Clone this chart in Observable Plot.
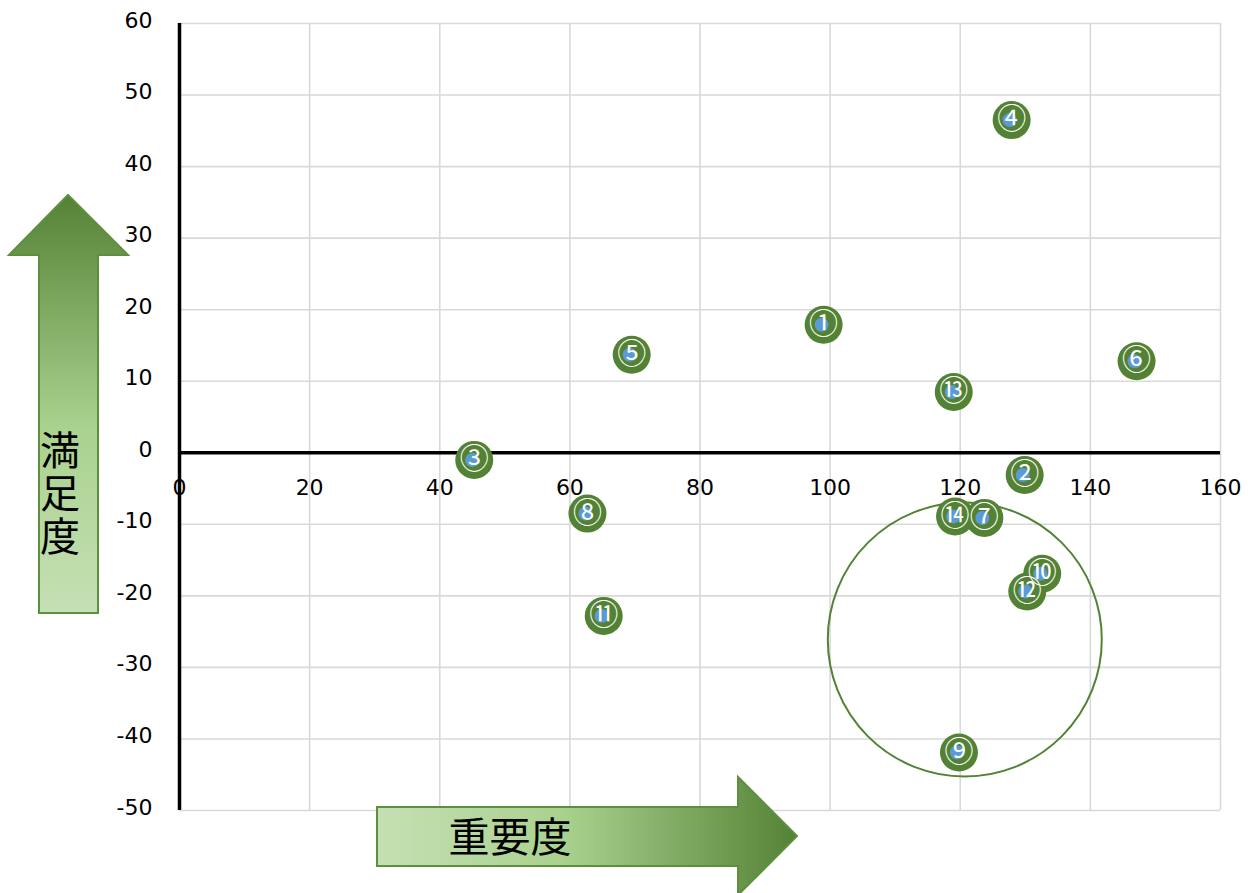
<!DOCTYPE html>
<html>
<head>
<meta charset="utf-8">
<script src="https://cdn.jsdelivr.net/npm/d3@7"></script>
<script src="https://cdn.jsdelivr.net/npm/@observablehq/plot@0.6"></script>
<style>
  body { margin: 0; background: #fff; }
  #chart svg { display: block; }
</style>
</head>
<body>
<div id="chart"></div>
<script>
// Item labels (circled numbers), importance (x) and satisfaction (y)
const ids = ["①", "②", "③", "④", "⑤", "⑥", "⑦", "⑧", "⑨", "⑩", "⑪", "⑫", "⑬", "⑭"];
const importance = [99.0, 129.9, 45.3, 127.9, 69.5, 147.1, 123.7, 62.7, 119.8, 132.6, 65.2, 130.3, 119.0, 119.2];
const satisfaction = [17.9, -3.1, -1.0, 46.5, 13.7, 12.8, -9.1, -8.5, -41.9, -16.9, -22.8, -19.4, 8.5, -8.9];

const xTicks = [0, 20, 40, 60, 80, 100, 120, 140, 160];
const yTicks = [-50, -40, -30, -20, -10, 0, 10, 20, 30, 40, 50, 60];

// Highlighted cluster (circle centre)
const focusArea = [{x: 120.7, y: -26.1}];

const rows = ids.map((id, i) => ({id, x: importance[i], y: satisfaction[i]}));

const green = "#548235";
const gridColor = "#d9d9d9";
const tickFont = "DejaVu Sans, Verdana, sans-serif";
const cjkFont = "Noto Sans CJK JP, sans-serif";

const chart = Plot.plot({
  width: 1248,
  height: 893,
  marginLeft: 179,
  marginRight: 28,
  marginTop: 23,
  marginBottom: 83,
  x: {domain: [0, 160], axis: null},
  y: {domain: [-50, 60], axis: null},
  style: {background: "#fff", fontFamily: tickFont},
  marks: [
    Plot.ruleX(xTicks, {x: d => d, y1: -50, y2: 60, stroke: gridColor, strokeWidth: 1.6}),
    Plot.ruleY(yTicks, {y: d => d, x1: 0, x2: 160, stroke: gridColor, strokeWidth: 1.6}),
    Plot.dot(focusArea, {x: "x", y: "y", r: 137, fill: "none", stroke: green, strokeWidth: 2}),
    Plot.ruleY([0], {x1: 0, x2: 160, stroke: "#000", strokeWidth: 3.5}),
    Plot.ruleX([0], {y1: -50, y2: 60, stroke: "#000", strokeWidth: 3.5}),
    Plot.text(yTicks, {x: 0, y: d => d, text: d => String(d), textAnchor: "end", dx: -27, dy: -3, fontSize: 22, fill: "#000"}),
    Plot.text(xTicks, {x: d => d, y: 0, text: d => String(d), dy: 35, fontSize: 22, fill: "#000"}),
    Plot.dot(rows, {x: "x", y: "y", r: 19, fill: green, stroke: "none"}),
    Plot.dot(rows, {x: "x", y: "y", r: 7, fill: "#5b9bd5", stroke: "none", dx: -2}),
    Plot.text(rows, {x: "x", y: "y", text: "id", fill: "#fff", fontSize: 29, fontFamily: cjkFont})
  ]
});

document.getElementById("chart").appendChild(chart);

// Decorative axis arrows with gradient fills
const svg = d3.select(chart);
const defs = svg.append("defs");

const vGrad = defs.append("linearGradient").attr("id", "grad-up")
  .attr("x1", 0).attr("y1", 1).attr("x2", 0).attr("y2", 0);
vGrad.append("stop").attr("offset", "0%").attr("stop-color", "#c5e0b4");
vGrad.append("stop").attr("offset", "45%").attr("stop-color", "#a9d18e");
vGrad.append("stop").attr("offset", "100%").attr("stop-color", "#548235");

const hGrad = defs.append("linearGradient").attr("id", "grad-right")
  .attr("x1", 0).attr("y1", 0).attr("x2", 1).attr("y2", 0);
hGrad.append("stop").attr("offset", "0%").attr("stop-color", "#c5e0b4");
hGrad.append("stop").attr("offset", "45%").attr("stop-color", "#a9d18e");
hGrad.append("stop").attr("offset", "100%").attr("stop-color", "#548235");

const deco = svg.append("g").attr("class", "axis-arrows");

// Upward arrow (satisfaction), label set in vertical writing mode
deco.append("path")
  .attr("d", "M39,613 L39,255 L9,255 L68,195 L128,255 L98,255 L98,613 Z")
  .attr("fill", "url(#grad-up)")
  .attr("stroke", "#5e8f3e")
  .attr("stroke-width", 2);
deco.append("text")
  .attr("x", 60)
  .attr("y", 494)
  .attr("text-anchor", "middle")
  .style("writing-mode", "vertical-rl")
  .style("text-orientation", "upright")
  .attr("letter-spacing", 3)
  .attr("font-family", cjkFont)
  .attr("font-size", 40)
  .attr("fill", "#000")
  .text("満足度");

// Rightward arrow (importance)
deco.append("path")
  .attr("d", "M377,807 L738,807 L738,777 L797,836 L738,895 L738,866 L377,866 Z")
  .attr("fill", "url(#grad-right)")
  .attr("stroke", "#5e8f3e")
  .attr("stroke-width", 2);
deco.append("text")
  .attr("x", 510).attr("y", 838)
  .attr("dy", "0.35em")
  .attr("text-anchor", "middle")
  .attr("font-family", cjkFont)
  .attr("font-size", 41)
  .attr("fill", "#000")
  .text("重要度");
</script>
</body>
</html>
